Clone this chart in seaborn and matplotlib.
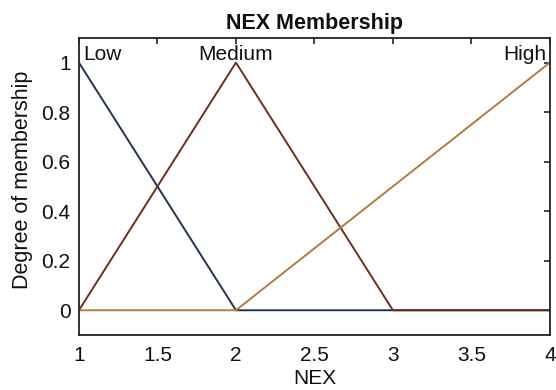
import matplotlib
matplotlib.use("Agg")
import matplotlib.pyplot as plt
import seaborn as sns
import pandas as pd

# Membership function breakpoints for the NEX input
sets = ["Low", "Medium", "High"]
low_x = [1, 2, 4]
low_y = [1, 0, 0]
medium_x = [1, 2, 3, 4]
medium_y = [0, 1, 0, 0]
high_x = [1, 2, 4]
high_y = [0, 0, 1]
x_ticks = [1, 1.5, 2, 2.5, 3, 3.5, 4]
y_ticks = [0, 0.2, 0.4, 0.6, 0.8, 1]
label_pos = [1, 2, 4]

df = pd.concat([
    pd.DataFrame({"NEX": low_x, "mu": low_y, "set": "Low"}),
    pd.DataFrame({"NEX": medium_x, "mu": medium_y, "set": "Medium"}),
    pd.DataFrame({"NEX": high_x, "mu": high_y, "set": "High"}),
], ignore_index=True)

sns.set_style("white")
plt.rcParams["font.family"] = ["Liberation Sans", "DejaVu Sans"]

fig = plt.figure(figsize=(5.56, 3.9), dpi=100)
ax = fig.add_axes([0.142, 0.141, 0.847, 0.762])

palette = {"Low": "#22344f", "Medium": "#6e2d1e", "High": "#b27c3e"}
sns.lineplot(data=df, x="NEX", y="mu", hue="set", hue_order=sets,
             palette=palette, sort=False, estimator=None, units="set",
             linewidth=1.4, legend=False, ax=ax)

ax.set_xlim(1, 4)
ax.set_ylim(-0.1, 1.1)
ax.set_xticks(x_ticks)
ax.set_xticklabels([f"{t:g}" for t in x_ticks])
ax.set_yticks(y_ticks)
ax.set_yticklabels([f"{t:g}" for t in y_ticks])
ax.tick_params(direction="in", length=4, width=1.2, top=True, right=True,
               labelsize=15, color="#222222", labelcolor="#111111")
ax.tick_params(axis="x", pad=8)
ax.tick_params(axis="y", pad=6)
for s in ax.spines.values():
    s.set_color("#222222")
    s.set_linewidth(1.3)

ax.set_xlabel("NEX", fontsize=15, labelpad=3, color="#111111")
ax.set_ylabel("Degree of membership", fontsize=15.5, color="#111111")
ax.yaxis.set_label_coords(-0.097, 0.522)
ax.set_title("NEX Membership", fontsize=15.5, fontweight="bold", pad=6,
             color="#111111")

aligns = ["left", "center", "right"]
offs = [0.025, 0, -0.02]
for name, xp, ha, o in zip(sets, label_pos, aligns, offs):
    ax.text(xp + o, 1.012, name, ha=ha, va="baseline", fontsize=15,
            color="#111111")

fig.savefig("out.png", dpi=100)
